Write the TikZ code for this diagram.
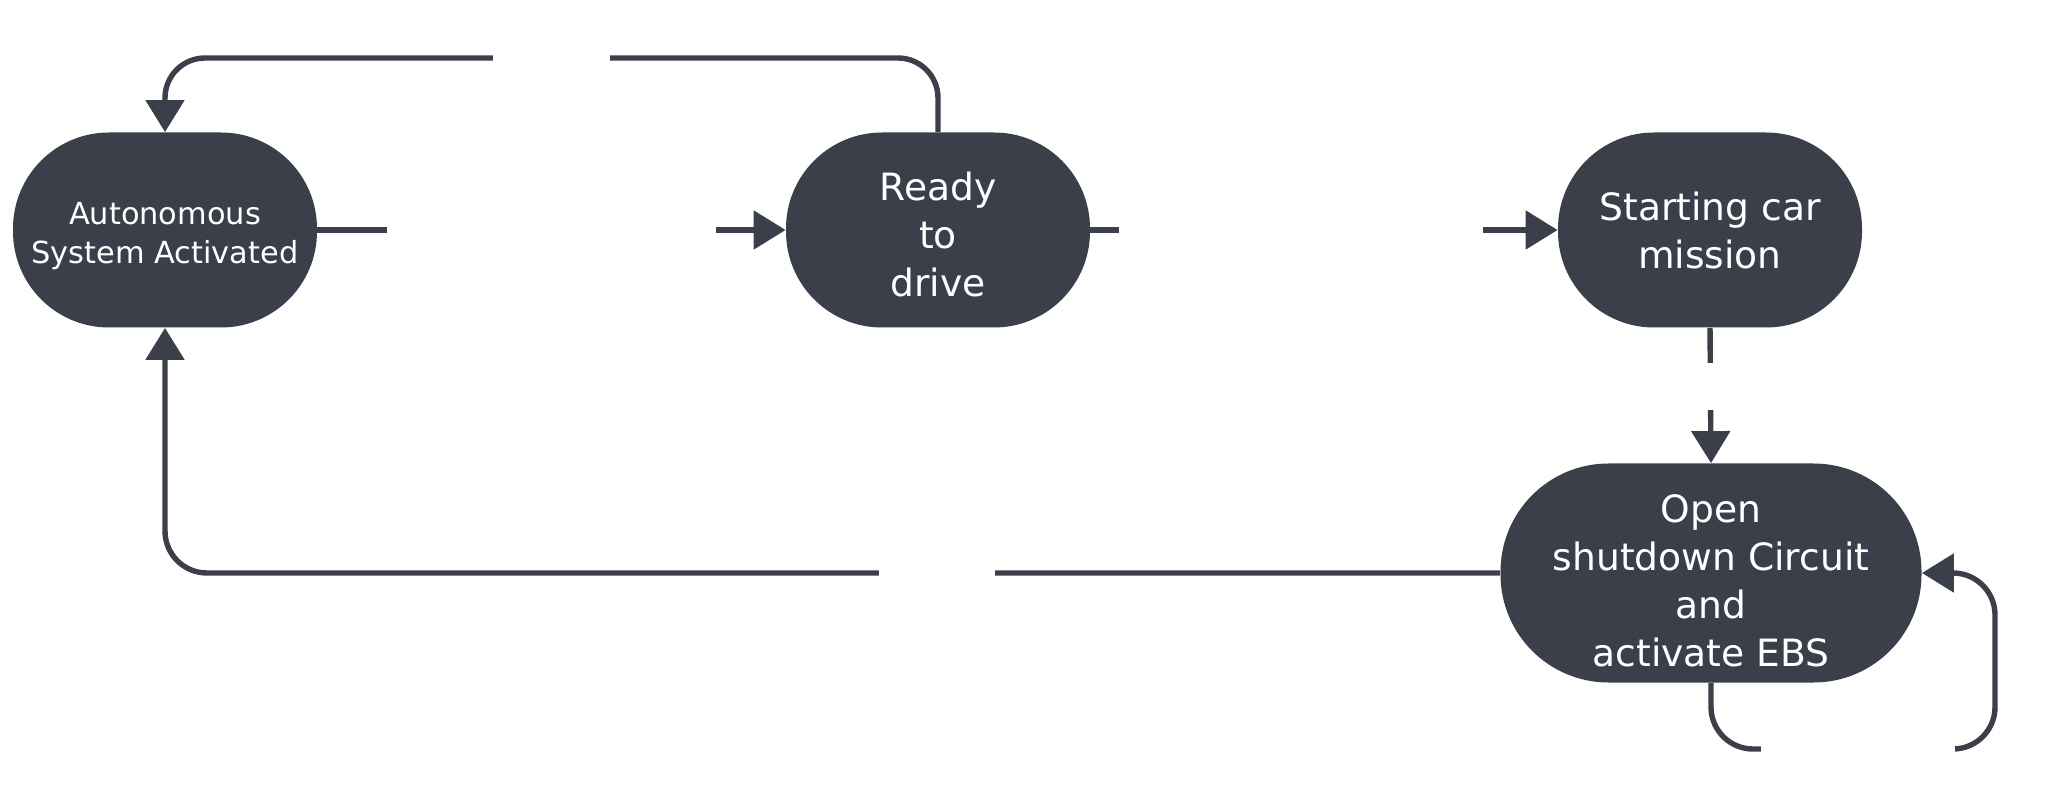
\documentclass[tikz,border=0pt]{standalone}
\usepackage{fontspec}
\setmainfont{DejaVu Sans}
\usetikzlibrary{arrows.meta}
\definecolor{slate}{RGB}{58,63,74}
\newcommand{\lowr}[1]{\rule{0pt}{#1}}
\begin{document}
\begin{tikzpicture}[x=0.5pt,y=-0.5pt,
  state/.style={fill=slate, text=white, inner sep=0pt, minimum width=152pt,
    minimum height=97.5pt, rounded corners=48pt, align=center,
    font=\fontsize{18.8}{24}\selectfont},
  link/.style={draw=slate, line width=2.7pt, -{Triangle[length=16pt,width=19pt]}},
  gap/.style={fill=white, sharp corners, inner sep=0pt, minimum height=10pt, minimum width=10pt}]
\useasboundingbox (0,0) rectangle (2048,806);

\node[state, font=\fontsize{15.2}{19.5}\selectfont] (n1) at (165,230) {\lowr{16.9pt}Autonomous\\System Activated};
\node[state] (n2) at (938,230) {\lowr{18.3pt}Ready\\to\\drive};
\node[state] (n3) at (1710,230) {Starting car\\mission};
\node[state, minimum width=210.5pt, minimum height=109.5pt, rounded corners=54pt] (n4) at (1711,573) {\lowr{21.5pt}Open\\shutdown Circuit\\and\\activate EBS};

\draw[link] (n1.east) -- node[gap, minimum width=164.5pt]{} (n2.west);
\draw[link] (n2.east) -- node[gap, pos=0.45, minimum width=182pt]{} (n3.west);
\draw[link, rounded corners=20pt] (n2.north) -- (n2.north |- 0,58)
  -- node[gap, minimum width=58.5pt]{} (n1.north |- 0,58) -- (n1.north);
\draw[link] (n3.south) -- node[gap, pos=0.43, minimum height=23.5pt]{} (n4.north);
\draw[link, rounded corners=21pt] (n4.west)
  -- node[gap, pos=0.422, minimum width=58pt]{} (n1.south |- n4.west) -- (n1.south);
\draw[link, rounded corners=21pt] (n4.south) -- (n4.south |- 0,749)
  -- node[gap, pos=0.516, minimum width=97pt]{} (1995,749) -- (1995,573) -- (n4.east);
\end{tikzpicture}
\end{document}
